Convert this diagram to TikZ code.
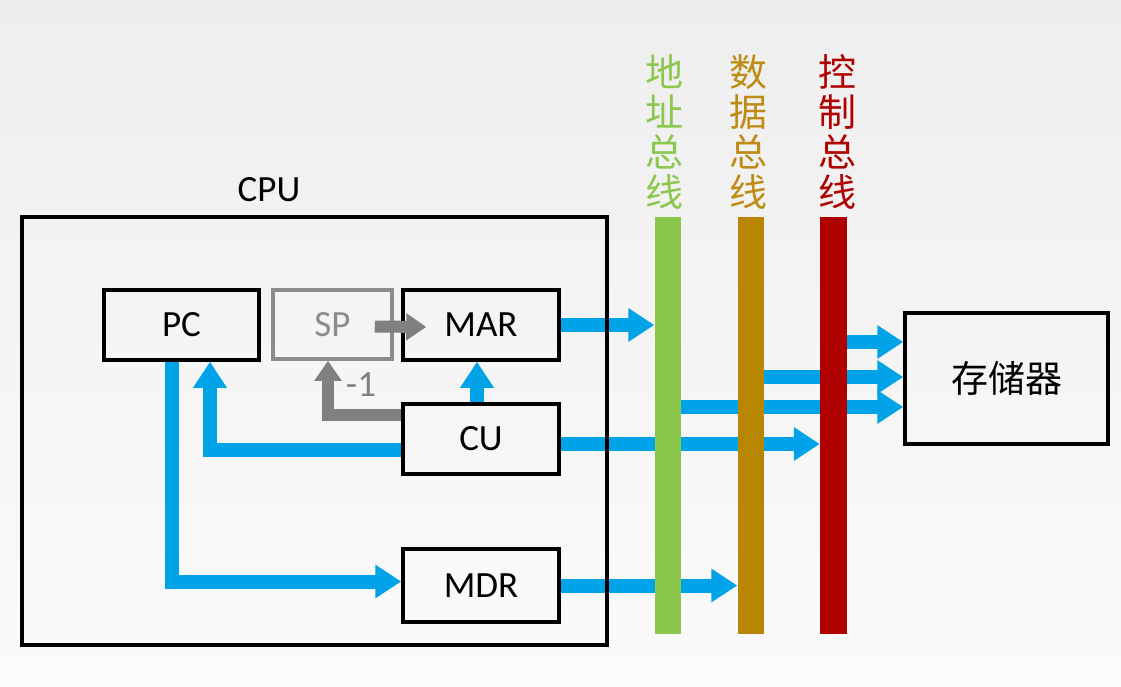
\documentclass[tikz,border=0pt]{standalone}
\usepackage{fontspec}
\setmainfont{Carlito}
\newfontfamily\cjk{Noto Sans CJK SC}
\usetikzlibrary{arrows.meta}
\pgfdeclarelayer{bglayer}
\pgfdeclarelayer{arrowlayer}
\pgfsetlayers{bglayer,arrowlayer,main}
\definecolor{cblue}{RGB}{0,163,232}
\definecolor{cgray}{RGB}{128,128,128}
\definecolor{spgray}{RGB}{140,140,140}
\definecolor{busgreen}{RGB}{139,199,74}
\definecolor{busbrown}{RGB}{184,134,0}
\definecolor{busred}{RGB}{176,0,0}
\definecolor{txtgreen}{RGB}{140,200,80}
\definecolor{txtbrown}{RGB}{190,140,20}
\definecolor{bgtop}{RGB}{238,238,238}
\definecolor{bgbot}{RGB}{251,251,251}
\begin{document}
\begin{tikzpicture}[x=1pt,y=-1pt,
  box/.style={draw=black, line width=3.5pt, minimum width=156pt, minimum height=70pt, inner sep=0pt, font=\fontsize{37}{40}\selectfont},
  barrow/.style={draw=cblue, line width=14pt, -{Triangle[length=26pt,width=32pt]}},
  garrow/.style={draw=cgray, line width=12pt, -{Triangle[length=20pt,width=26pt]}},
  bus/.style={minimum width=26pt, minimum height=417pt, inner sep=0pt, draw=none},
  buslabel/.style={align=center, inner sep=0pt, font=\cjk\fontsize{38}{40}\selectfont},
  lbl/.style={inner sep=0pt, font=\fontsize{37}{40}\selectfont}]
\useasboundingbox (0,0) rectangle (1121,687);
\begin{pgfonlayer}{bglayer}
  \shade[top color=bgtop, bottom color=bgbot] (0,0) rectangle (1121,687);
\end{pgfonlayer}

% CPU frame
\node[draw=black, line width=3.5pt, minimum width=585pt, minimum height=428pt, inner sep=0pt] (cpu) at (314.5,431) {};
\node[lbl] (cpulbl) at (269,190) {CPU};

% registers
\node[box, minimum width=155pt] (pc) at (181.5,325) {PC};
\node[box, draw=spgray, text=spgray, minimum width=119pt, minimum height=69pt] (sp) at (332.5,324.5) {SP};
\node[box] (mar) at (481,325) {MAR};
\node[box] (cu) at (481,439) {CU};
\node[box, minimum height=73pt] (mdr) at (481,585.5) {MDR};
\node[box, minimum width=203pt, minimum height=131pt, font=\cjk\fontsize{37}{40}\selectfont] (mem) at (1006.5,378.5) {存储器};

% buses
\node[bus, fill=busgreen] (ab) at (667.5,425.5) {};
\node[bus, fill=busbrown] (db) at (750.5,425.5) {};
\node[bus, fill=busred, minimum width=27pt] (cb) at (833.5,425.5) {};
\node[buslabel, text=txtgreen] (abl) at (664,132) {地\\址\\总\\线};
\node[buslabel, text=txtbrown] (dbl) at (748,132) {数\\据\\总\\线};
\node[buslabel, text=busred] (cbl) at (837,132) {控\\制\\总\\线};

% helper coordinates
\coordinate (x172) at (172,0);
\coordinate (x210) at (210,0);
\coordinate (x328) at (328,0);
\coordinate (y342) at (0,342);
\coordinate (y377) at (0,377);
\coordinate (y407) at (0,407);
\coordinate (cuout) at ([yshift=-5pt]cu.east);

\begin{pgfonlayer}{arrowlayer}
  \draw[barrow] (mar.east) -- (ab.west |- mar.east);
  \draw[barrow] (cuout) -- (cb.west |- cuout);
  \draw[barrow] (mdr.east) -- (db.west |- mdr.east);
  \draw[barrow] (cb.east |- y342) -- (mem.west |- y342);
  \draw[barrow] (db.east |- y377) -- (mem.west |- y377);
  \draw[barrow] (ab.east |- y407) -- (mem.west |- y407);
  \draw[barrow] (x172 |- pc.south) |- ([yshift=4pt]mdr.west);
  \draw[barrow] ([yshift=-11pt]cu.west) -| (x210 |- pc.south);
  \draw[barrow] ([xshift=-4pt]cu.north) -- ([xshift=-4pt]mar.south);
  \draw[garrow] ([yshift=24pt]cu.west) -| (x328 |- sp.south);
\end{pgfonlayer}

\draw[garrow] ([xshift=-19pt,yshift=-2pt]sp.east) -- ([xshift=25pt,yshift=-2pt]mar.west);
\node[lbl, text=cgray] (minus) at (361,385) {-1};
\end{tikzpicture}
\end{document}
